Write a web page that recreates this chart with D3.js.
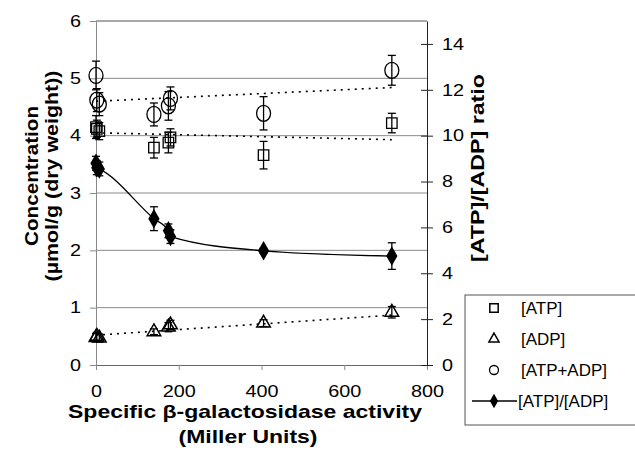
<!DOCTYPE html>
<html>
<head>
<meta charset="utf-8">
<script src="https://cdn.jsdelivr.net/npm/d3@7"></script>
<style>
  body { margin: 0; background: #fff; }
  text { font-family: Arial, "Liberation Sans", sans-serif; }
</style>
</head>
<body>
<svg id="chart"></svg>
<script>
// values
const activity = [0, 2, 8, 140, 175, 180, 405, 715];
const atp      = [4.15, 4.12, 4.08, 3.79, 3.88, 3.97, 3.66, 4.22];
const atpErr   = [0.20, 0.15, 0.15, 0.18, 0.18, 0.15, 0.24, 0.17];
const adp      = [0.48, 0.50, 0.47, 0.58, 0.66, 0.70, 0.73, 0.92];
const adpErr   = [0.07, 0.07, 0.07, 0.05, 0.08, 0.08, 0.06, 0.10];
const total    = [5.05, 4.62, 4.55, 4.37, 4.52, 4.65, 4.39, 5.14];
const totalErr = [0.25, 0.20, 0.20, 0.20, 0.25, 0.20, 0.29, 0.26];
const ratio    = [8.8, 8.6, 8.55, 6.38, 5.85, 5.6, 4.98, 4.75];
const ratioErr = [0.30, 0.30, 0.30, 0.52, 0.30, 0.30, 0.10, 0.58];

// dotted trend lines (end points)
const atpTrend   = [[0, 4.05], [715, 3.93]];
const adpTrend   = [[0, 0.52], [715, 0.87]];
const totalTrend = [[0, 4.60], [715, 4.84]];

const xTicks = [0, 200, 400, 600, 800];
const leftTicks = [0, 1, 2, 3, 4, 5, 6];
const rightTicks = [0, 2, 4, 6, 8, 10, 12, 14];
const legendLabels = ["[ATP]", "[ADP]", "[ATP+ADP]", "[ATP]/[ADP]"];

const width = 635, height = 455;
const plotLeft = 96, plotRight = 427, plotTop = 21, plotBottom = 365;

const svg = d3.select("#chart").attr("width", width).attr("height", height);

const x = d3.scaleLinear().domain([0, 800]).range([plotLeft, plotRight]);
const y = d3.scaleLinear().domain([0, 6]).range([plotBottom, plotTop]);
const y2 = d3.scaleLinear().domain([0, 15]).range([plotBottom, plotTop]);

// the scanned type is wider than Arial: stretch a text element sideways, anchor kept
function widen(sel, k) {
  sel.each(function () {
    const len = this.getComputedTextLength();
    d3.select(this).attr("textLength", len * k).attr("lengthAdjust", "spacingAndGlyphs");
  });
}

// grid lines
svg.append("g")
  .selectAll("line")
  .data(leftTicks.slice(1, 6))
  .enter()
  .append("line")
  .attr("x1", plotLeft).attr("x2", plotRight)
  .attr("y1", d => y(d)).attr("y2", d => y(d))
  .attr("stroke", "#8a8a8a").attr("stroke-width", 1);

// top border
svg.append("line")
  .attr("x1", plotLeft).attr("x2", plotRight).attr("y1", y(6)).attr("y2", y(6))
  .attr("stroke", "#555").attr("stroke-width", 1);

// left axis
const yAxis = svg.append("g")
  .attr("transform", `translate(${plotLeft},0)`)
  .call(d3.axisLeft(y).tickValues(leftTicks).tickFormat(d3.format("d"))
    .tickSize(6).tickPadding(9).tickSizeOuter(0));
yAxis.select(".domain").attr("stroke", "#8a8a8a");
yAxis.selectAll(".tick line").attr("stroke", "#8a8a8a");
yAxis.selectAll("text").attr("font-size", "16.5px").attr("fill", "#000").call(widen, 1.2);

// bottom axis
const xAxis = svg.append("g")
  .attr("transform", `translate(0,${plotBottom})`)
  .call(d3.axisBottom(x).tickValues(xTicks).tickFormat(d3.format("d"))
    .tickSize(5).tickPadding(15).tickSizeOuter(0));
xAxis.select(".domain").attr("stroke", "#666");
xAxis.selectAll(".tick line").attr("stroke", "#8a8a8a");
xAxis.selectAll("text").attr("font-size", "16.5px").attr("fill", "#000").call(widen, 1.2);

// right axis, ticks crossing the line
const rAxis = svg.append("g")
  .attr("transform", `translate(${plotRight},0)`)
  .call(d3.axisRight(y2).tickValues(rightTicks).tickFormat(d3.format("d"))
    .tickSize(6).tickPadding(9).tickSizeOuter(0));
rAxis.select(".domain").attr("stroke", "#222");
rAxis.selectAll(".tick line").attr("x1", -6).attr("stroke", "#222");
rAxis.selectAll("text").attr("font-size", "16.5px").attr("fill", "#000").call(widen, 1.2);

// trend lines
const trendLine = d3.line().x(d => x(d[0])).y(d => y(d[1]));
[atpTrend, adpTrend, totalTrend].forEach(t => {
  svg.append("path")
    .attr("d", trendLine(t))
    .attr("fill", "none")
    .attr("stroke", "#000")
    .attr("stroke-width", 1.6)
    .attr("stroke-dasharray", "2,5");
});

// ratio line
const ratioPts = activity.map((a, i) => [a, ratio[i]]);
svg.append("path")
  .attr("d", d3.line().x(d => x(d[0])).y(d => y2(d[1])).curve(d3.curveMonotoneX)(ratioPts))
  .attr("fill", "none")
  .attr("stroke", "#000")
  .attr("stroke-width", 1.3);

// error bars
function errorBars(vals, errs, scale) {
  const g = svg.append("g").attr("stroke", "#000").attr("stroke-width", 1.3);
  activity.forEach((a, i) => {
    const cx = x(a), hi = scale(vals[i] + errs[i]), lo = scale(vals[i] - errs[i]);
    g.append("line").attr("x1", cx).attr("x2", cx).attr("y1", hi).attr("y2", lo);
    g.append("line").attr("x1", cx - 4).attr("x2", cx + 4).attr("y1", hi).attr("y2", hi);
    g.append("line").attr("x1", cx - 4).attr("x2", cx + 4).attr("y1", lo).attr("y2", lo);
  });
}
errorBars(atp, atpErr, y);
errorBars(adp, adpErr, y);
errorBars(total, totalErr, y);
errorBars(ratio, ratioErr, y2);

// markers
const sq = d3.symbol().type(d3.symbolSquare).size(110);
const tri = d3.symbol().type(d3.symbolTriangle).size(80);
const dia = d3.symbol().type(d3.symbolDiamond).size(110);

svg.append("g").selectAll("path").data(activity).enter().append("path")
  .attr("d", sq).attr("transform", (d, i) => `translate(${x(d)},${y(atp[i])})`)
  .attr("fill", "none").attr("stroke", "#000").attr("stroke-width", 1.3);

svg.append("g").selectAll("path").data(activity).enter().append("path")
  .attr("d", tri).attr("transform", (d, i) => `translate(${x(d)},${y(adp[i])})`)
  .attr("fill", "none").attr("stroke", "#000").attr("stroke-width", 1.5);

svg.append("g").selectAll("ellipse").data(activity).enter().append("ellipse")
  .attr("cx", d => x(d)).attr("cy", (d, i) => y(total[i]))
  .attr("rx", 7).attr("ry", 8)
  .attr("fill", "none").attr("stroke", "#000").attr("stroke-width", 1.3);

svg.append("g").selectAll("path").data(activity).enter().append("path")
  .attr("d", dia).attr("transform", (d, i) => `translate(${x(d)},${y2(ratio[i])})`)
  .attr("fill", "#000");

// axis titles, stretched to the measured lengths
const leftTitle = svg.append("text")
  .attr("transform", "translate(38,176) rotate(-90)")
  .attr("text-anchor", "middle")
  .attr("font-size", "18.5px").attr("font-weight", "bold");
leftTitle.append("tspan").attr("x", 0).attr("y", 0)
  .attr("textLength", 140).attr("lengthAdjust", "spacingAndGlyphs")
  .text("Concentration");
leftTitle.append("tspan").attr("x", 0).attr("y", 20)
  .attr("textLength", 211).attr("lengthAdjust", "spacingAndGlyphs")
  .text("(\u00b5mol/g (dry weight))");

svg.append("text")
  .attr("transform", "translate(484,168) rotate(-90)")
  .attr("text-anchor", "middle")
  .attr("font-size", "18.5px").attr("font-weight", "bold")
  .attr("textLength", 188).attr("lengthAdjust", "spacingAndGlyphs")
  .text("[ATP]/[ADP] ratio");

const xTitle = svg.append("text")
  .attr("text-anchor", "middle")
  .attr("font-size", "18.5px").attr("font-weight", "bold");
xTitle.append("tspan").attr("x", 245).attr("y", 418)
  .attr("textLength", 354).attr("lengthAdjust", "spacingAndGlyphs")
  .text("Specific \u03b2-galactosidase activity");
xTitle.append("tspan").attr("x", 248).attr("y", 443)
  .attr("textLength", 139).attr("lengthAdjust", "spacingAndGlyphs")
  .text("(Miller Units)");

// legend
const legend = svg.append("g").attr("transform", "translate(465,295)");
legend.append("rect")
  .attr("x", 0).attr("y", 0).attr("width", 180).attr("height", 130)
  .attr("fill", "#fff").attr("stroke", "#555").attr("stroke-width", 1);

const rowY = d3.scalePoint().domain(legendLabels).range([13, 106]);
const mx = 29;

legend.append("path").attr("d", d3.symbol().type(d3.symbolSquare).size(70))
  .attr("transform", `translate(${mx},${rowY("[ATP]")})`)
  .attr("fill", "none").attr("stroke", "#000").attr("stroke-width", 1.5);
legend.append("path").attr("d", d3.symbol().type(d3.symbolTriangle).size(45))
  .attr("transform", `translate(${mx},${rowY("[ADP]")})`)
  .attr("fill", "none").attr("stroke", "#000").attr("stroke-width", 1.5);
legend.append("circle").attr("cx", mx).attr("cy", rowY("[ATP+ADP]")).attr("r", 4.5)
  .attr("fill", "none").attr("stroke", "#000").attr("stroke-width", 1.3);
legend.append("line")
  .attr("x1", 7).attr("x2", 52)
  .attr("y1", rowY("[ATP]/[ADP]")).attr("y2", rowY("[ATP]/[ADP]"))
  .attr("stroke", "#000").attr("stroke-width", 1.5);
legend.append("path").attr("d", d3.symbol().type(d3.symbolDiamond).size(60))
  .attr("transform", `translate(${mx},${rowY("[ATP]/[ADP]")})`)
  .attr("fill", "#000");

legend.selectAll(".lbl")
  .data(legendLabels)
  .enter()
  .append("text")
  .attr("class", "lbl")
  .attr("x", (d, i) => i === 3 ? 53 : 56)
  .attr("y", d => rowY(d))
  .attr("dy", "0.35em")
  .attr("font-size", "16px")
  .text(d => d)
  .call(widen, 1.06);
</script>
</body>
</html>
